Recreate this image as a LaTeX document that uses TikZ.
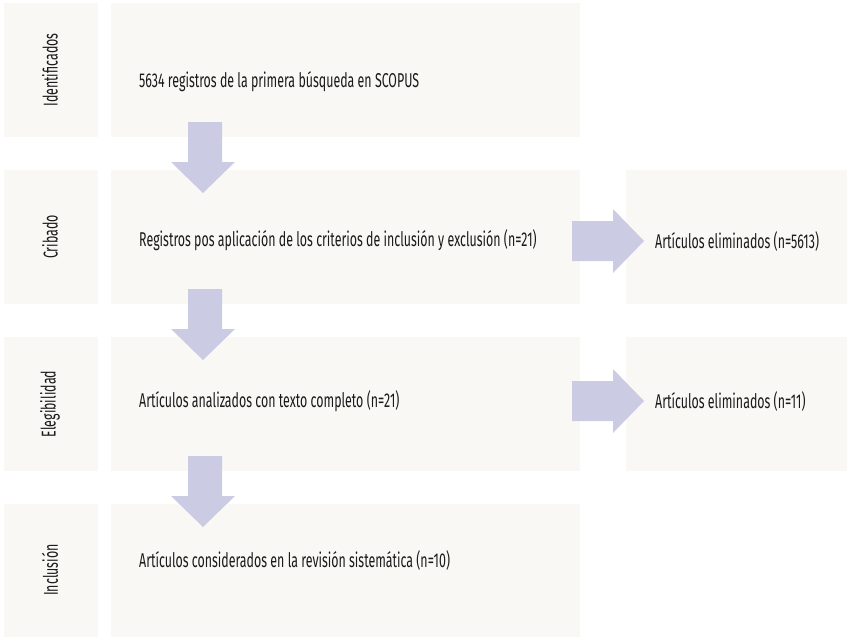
\documentclass[tikz,border=0pt]{standalone}
\usepackage{fontspec}
\setmainfont[FakeStretch=0.62]{Fira Sans}
\definecolor{boxfill}{HTML}{F9F8F5}
\definecolor{arrowfill}{HTML}{CBCCE4}
\definecolor{txt}{HTML}{1A1A1A}
\begin{document}
\begin{tikzpicture}[x=1pt,y=-1pt,
  box/.style={fill=boxfill,draw=none},
  lbl/.style={font=\fontsize{20}{22}\selectfont,text=txt,inner sep=0pt},
  sidelbl/.style={lbl,rotate=90},
  blockarrow/.style={fill=arrowfill,draw=none}]
\useasboundingbox (0,0) rectangle (848,638);
% left column
\fill[box] (4,3) rectangle (98,137);
\fill[box] (4,170) rectangle (98,304);
\fill[box] (4,337) rectangle (98,471);
\fill[box] (4,504) rectangle (98,637);
% middle column
\fill[box] (111,3) rectangle (580,137);
\fill[box] (111,170) rectangle (580,304);
\fill[box] (111,337) rectangle (580,471);
\fill[box] (111,504) rectangle (580,637);
% right column
\fill[box] (626,170) rectangle (847,304);
\fill[box] (626,337) rectangle (847,471);
% side labels
\node[sidelbl] (l1) at (50,70) {Identificados};
\node[sidelbl] (l2) at (50,237) {Cribado};
\node[sidelbl] (l3) at (50,404) {Elegibilidad};
\node[sidelbl] (l4) at (50,570) {Inclusión};
% middle texts
\node[lbl,anchor=west] (m1) at (139,82) {5634 registros de la primera búsqueda en SCOPUS};
\node[lbl,anchor=west] (m2) at (139,240) {Registros pos aplicación de los criterios de inclusión y exclusión (n=21)};
\node[lbl,anchor=west] (m3) at (139,401) {Artículos analizados con texto completo (n=21)};
\node[lbl,anchor=west] (m4) at (139,560) {Artículos considerados en la revisión sistemática (n=10)};
% right texts
\node[lbl,anchor=west] (r2) at (655,241) {Artículos eliminados (n=5613)};
\node[lbl,anchor=west] (r3) at (655,401) {Artículos eliminados (n=11)};
% down arrows
\foreach \t in {122,289,456}{
  \fill[blockarrow] (188,\t) -- (222,\t) -- (222,\t+40) -- (235,\t+40) -- (203,\t+71) -- (171,\t+40) -- (188,\t+40) -- cycle;
}
% right arrows
\foreach \c in {241,401}{
  \fill[blockarrow] (572,\c-20) -- (613,\c-20) -- (613,\c-32) -- (644,\c) -- (613,\c+32) -- (613,\c+20) -- (572,\c+20) -- cycle;
}
\end{tikzpicture}
\end{document}
